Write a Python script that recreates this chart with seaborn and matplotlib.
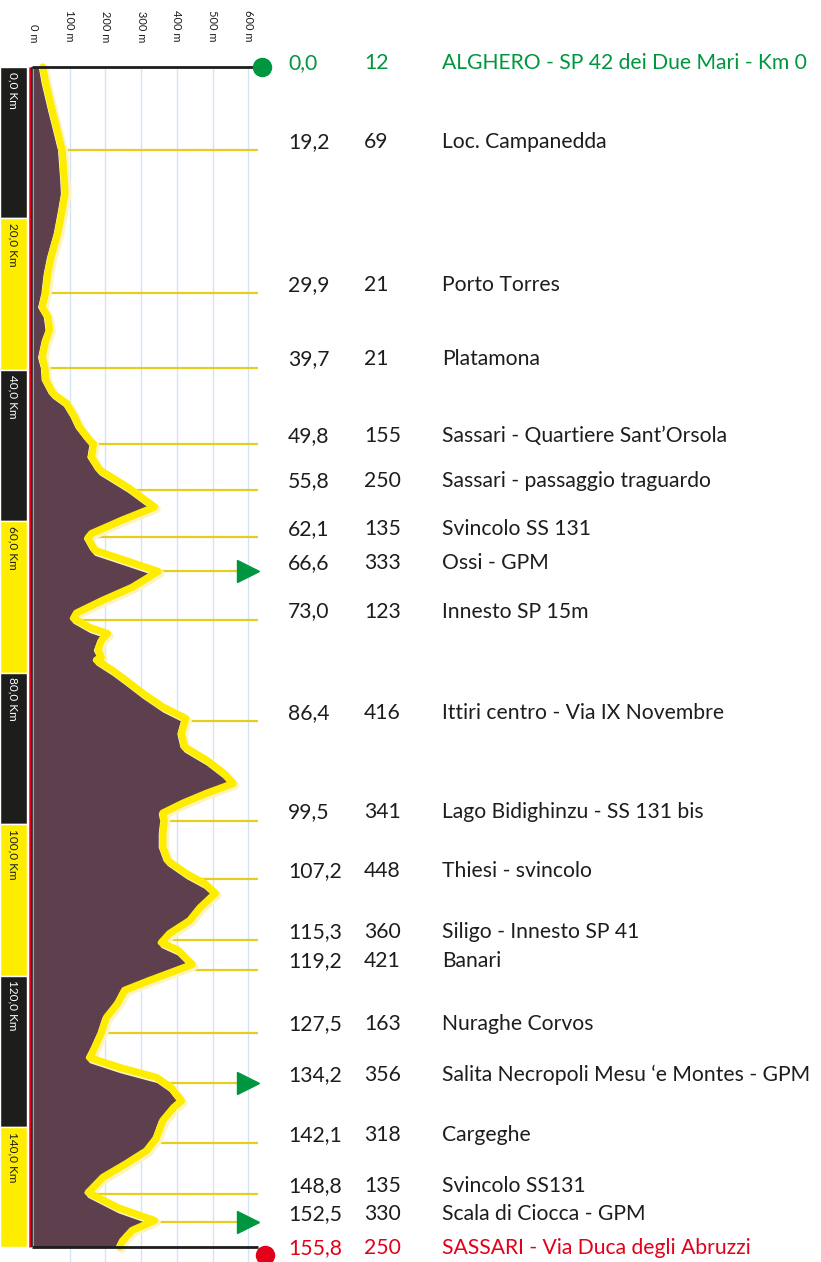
# Altimetria tappa Alghero - Sassari: profilo verticale con tabella dei passaggi

import numpy as np
import matplotlib
matplotlib.use("Agg")
import matplotlib.pyplot as plt
import matplotlib.patheffects as pe
import seaborn as sns

# --- Profile (km, altitude m) ---
profile_km = [0.0, 2.1, 5.7, 8.7, 11.0, 13.6, 14.9, 16.7, 18.9, 21.9, 25.1, 27.2, 29.9, 31.7,
              33.0, 34.7, 36.1, 38.3, 39.8, 41.3, 43.1, 44.4, 46.2, 47.6, 49.3, 49.8, 51.5,
              53.2, 55.5, 58.1, 59.8, 61.6, 62.2, 63.8, 65.1, 66.6, 68.7, 70.4, 72.1, 72.8,
              74.0, 74.8, 75.7, 77.0, 77.9, 78.3, 79.7, 81.0, 82.7, 84.5, 86.0, 88.0, 89.8,
              91.5, 93.3, 94.6, 95.9, 97.2, 98.5, 99.5, 101.2, 103.0, 104.8, 106.5, 107.8,
              109.1, 111.0, 112.7, 114.4, 115.6, 116.6, 118.5, 120.6, 121.9, 123.6, 125.5,
              127.5, 129.5, 130.8, 132.1, 133.4, 134.7, 136.5, 137.4, 139.1, 141.4, 143.1,
              144.8, 146.6, 148.6, 150.6, 152.3, 153.6, 155.0, 155.8]
profile_alt = [12, 20, 38, 54, 66, 70, 72, 74, 66, 54, 35, 26, 19, 10,
               26, 31, 20, 10, 18, 20, 40, 78, 101, 115, 143, 154, 148,
               171, 250, 325, 235, 148, 138, 157, 240, 335, 262, 180, 106, 98,
               143, 193, 176, 166, 176, 162, 208, 245, 292, 348, 412, 400, 409,
               470, 520, 545, 470, 404, 348, 352, 348, 348, 362, 414, 465,
               495, 452, 423, 367, 344, 390, 430, 311, 241, 222, 190,
               176, 157, 143, 227, 330, 370, 400, 378, 348, 330, 302,
               245, 180, 139, 222, 325, 262, 235, 227]

# --- Waypoints ---
wp_km_label = ["0,0", "19,2", "29,9", "39,7", "49,8", "55,8", "62,1", "66,6", "73,0", "86,4",
               "99,5", "107,2", "115,3", "119,2", "127,5", "134,2", "142,1", "148,8", "152,5",
               "155,8"]
wp_alt = [12, 69, 21, 21, 155, 250, 135, 333, 123, 416,
          341, 448, 360, 421, 163, 356, 318, 135, 330, 250]
wp_name = ["ALGHERO - SP 42 dei Due Mari - Km 0", "Loc. Campanedda", "Porto Torres", "Platamona",
           "Sassari - Quartiere Sant\u2019Orsola", "Sassari - passaggio traguardo",
           "Svincolo SS 131", "Ossi - GPM", "Innesto SP 15m", "Ittiri centro - Via IX Novembre",
           "Lago Bidighinzu - SS 131 bis", "Thiesi - svincolo", "Siligo - Innesto SP 41",
           "Banari", "Nuraghe Corvos", "Salita Necropoli Mesu \u2018e Montes - GPM", "Cargeghe",
           "Svincolo SS131", "Scala di Ciocca - GPM", "SASSARI - Via Duca degli Abruzzi"]
# where the leader line is drawn on the profile (Campanedda sits at km 11 in the drawing)
wp_line_km = [0.0, 11.0, 29.9, 39.7, 49.8, 55.8, 62.1, 66.6, 73.0, 86.4,
              99.5, 107.2, 115.3, 119.2, 127.5, 134.2, 142.1, 148.8, 152.5, 155.8]
wp_gpm = [66.6, 134.2, 152.5]

km_bands = [0, 20, 40, 60, 80, 100, 120, 140]
km_band_labels = ["0,0 Km", "20,0 Km", "40,0 Km", "60,0 Km", "80,0 Km", "100,0 Km",
                  "120,0 Km", "140,0 Km"]
alt_ticks = [0, 100, 200, 300, 400, 500, 600]
total_km = 155.8

# --- colours ---
PLUM = "#5d3f4e"
YELLOW = "#ffed00"
LEADER = "#e6cf1c"
DARK = "#1d1d1b"
GREEN = "#00963f"
RED = "#e2001a"
GRID = "#d3e5f5"

sns.set_style("white")
plt.rcParams["font.family"] = ["Lato", "DejaVu Sans"]

W, H = 821, 1262
fig = plt.figure(figsize=(W / 100, H / 100), dpi=100)
ax = fig.add_axes([0, 0, 1, 1])

# pixel helpers for layout
X0, PXM = 34.0, 0.357      # px of 0 m, px per metre
Y0, PXK = 67.0, 7.574      # px of km 0, px per km
def fx(px):
    return (px - X0) / PXM
def fy(py):
    return (py - Y0) / PXK

ax.set_xlim(fx(0), fx(W))
ax.set_ylim(fy(H), fy(0))
ax.axis("off")

# light vertical grid
ax.vlines(alt_ticks[1:], 0, fy(H), color=GRID, lw=1, zorder=1)

# km band on the left
band_ends = km_bands[1:] + [total_km]
band_h = [e - s for s, e in zip(km_bands, band_ends)]
band_c = [DARK if i % 2 == 0 else YELLOW for i in range(len(km_bands))]
ax.barh(y=km_bands, width=fx(27) - fx(0), left=fx(0), height=band_h, align="edge",
        color=band_c, zorder=2)
for i, (s, lab) in enumerate(zip(km_bands, km_band_labels)):
    ax.text(fx(13.5), s + 0.6, lab, rotation=-90, ha="center", va="top", fontsize=8.5,
            color="white" if i % 2 == 0 else DARK, zorder=3)

# altitude tick labels on top
for a in alt_ticks:
    ax.text(a, fy(42), f"{a} m", rotation=-90, ha="center", va="bottom", fontsize=8,
            color=DARK)

# red and black vertical rules
ax.vlines(fx(30.3), 0, total_km, color=RED, lw=1.8, zorder=4)
ax.vlines(fx(32.4), 0, total_km, color=DARK, lw=1.2, zorder=4)

# leader lines
ax.hlines(wp_line_km[1:-1], 0, fx(258), color=LEADER, lw=1.6, zorder=3)

# profile fill
ax.fill_betweenx(profile_km, fx(33), profile_alt, color=PLUM, lw=0, zorder=5)

# yellow profile line with pale halo
sns.lineplot(x=profile_alt, y=profile_km, orient="y", estimator=None, ax=ax,
             color=YELLOW, lw=5.2, zorder=6)
ax.lines[-1].set_path_effects([
    pe.Stroke(linewidth=5.6, foreground="#fbf4c2", offset=(5.0, -1.5)),
    pe.Stroke(linewidth=5.2, foreground=YELLOW, offset=(3.3, 0)),
])
ax.lines[-1].set_solid_capstyle("round")
ax.lines[-1].set_solid_joinstyle("round")

# start / finish rules
ax.hlines([0, total_km], fx(32), fx(258), color=DARK, lw=2.0, zorder=7)
ax.plot(fx(262), 0, "o", ms=13, color=GREEN, zorder=8)
ax.plot(fx(265), fy(1255), "o", ms=13, color=RED, zorder=8, clip_on=False)

# GPM triangles
ax.plot([fx(248)] * len(wp_gpm), wp_gpm, ">", ms=16, color=GREEN, lw=0, zorder=8)

# waypoint table
for i, (k, a, n, y) in enumerate(zip(wp_km_label, wp_alt, wp_name, wp_line_km)):
    if i == 0:
        col, dy = GREEN, 3
    elif i == len(wp_name) - 1:
        col, dy = RED, -1
    else:
        col, dy = DARK, 6
    for px, s in [(288, k), (364, str(a)), (442, n)]:
        ax.annotate(s, (fx(px), y), xytext=(0, dy), textcoords="offset points",
                    ha="left", va="center", fontsize=15.2, color=col, zorder=9)

fig.savefig("out.png", dpi=100)
